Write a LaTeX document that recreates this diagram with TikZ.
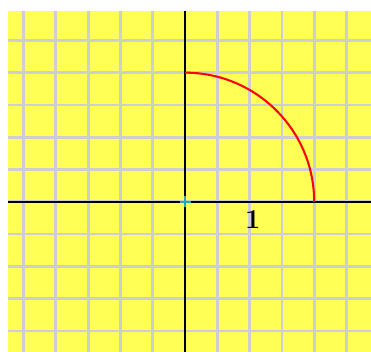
\documentclass[tikz,border=0pt]{standalone}
\definecolor{paper}{RGB}{255,255,85}
\definecolor{gridgray}{RGB}{205,205,210}
\definecolor{origincross}{RGB}{40,170,170}
\begin{document}
\begin{tikzpicture}[x=1cm,y=1cm]
 \useasboundingbox (-5.73,-4.64) rectangle (5.76,6.25);
 \fill[paper] (-5.48,-4.64) rectangle (5.76,5.91);
 \foreach \x in {-5,...,5}{\draw[gridgray,line width=2.4pt] (\x,-4.64)--(\x,5.91);}
 \foreach \y in {-4,...,5}{\draw[gridgray,line width=2.4pt] (-5.48,\y)--(5.76,\y);}
 \draw[line width=2.2pt] (-5.48,0)--(5.76,0);
 \draw[line width=2.2pt] (0,-4.64)--(0,5.91);
 \coordinate (O) at (0,0);
 \coordinate (top) at (0,4);
 \draw[red,line width=1.8pt] (top) arc[start angle=90,end angle=0,radius=4];
 \draw[origincross,line width=1.6pt] ([xshift=-0.17cm]O)--([xshift=0.17cm]O) ([yshift=-0.17cm]O)--([yshift=0.17cm]O);
 \node[font=\fontsize{24}{26}\selectfont\bfseries] (one) at (2.1,-0.56) {1};
\end{tikzpicture}
\end{document}
